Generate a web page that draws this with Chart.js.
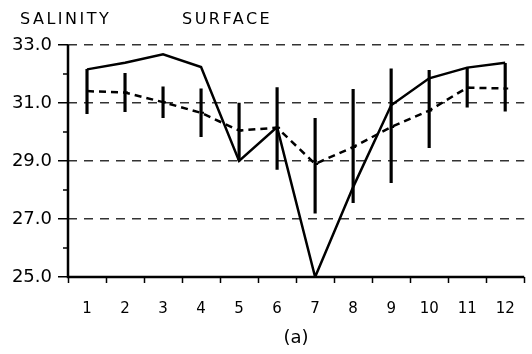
<!DOCTYPE html>
<html>
<head>
<meta charset="utf-8">
<script src="https://cdn.jsdelivr.net/npm/chart.js@4"></script>
<style>
    html, body { margin: 0; padding: 0; background: #fff; }
    #wrap { width: 532px; height: 354px; }
</style>
</head>
<body>
<div id="wrap"><canvas id="salinity-chart" width="532" height="354"></canvas></div>
<script>
// ============================================
// DATA
// ============================================

const months = ['1', '2', '3', '4', '5', '6', '7', '8', '9', '10', '11', '12'];
const surfaceValues = [32.16, 32.39, 32.68, 32.24, 29.0, 30.17, 25.0, 28.1, 30.92, 31.85, 32.22, 32.39];
const meanValues = [31.41, 31.36, 31.03, 30.66, 30.05, 30.15, 28.9, 29.48, 30.17, 30.74, 31.53, 31.5];
const rangeLow = [30.63, 30.7, 30.49, 29.84, 29.0, 28.71, 27.2, 27.56, 28.25, 29.46, 30.86, 30.72];
const rangeHigh = [32.16, 32.02, 31.56, 31.49, 31.0, 31.53, 30.47, 31.47, 32.18, 32.13, 32.22, 32.37];
const yMajorTicks = [25, 27, 29, 31, 33];
const yMinorTicks = [26, 28, 30, 32];

const FONT = '"DejaVu Sans", sans-serif';

// ============================================
// PLUGINS
// ============================================

// solid axis lines, minor y ticks and the header texts
const extrasPlugin = {
    id: 'extras',
    afterDraw(chart) {
        const ctx = chart.ctx;
        const area = chart.chartArea;
        const yScale = chart.scales.y;
        ctx.save();
        ctx.strokeStyle = '#000';
        ctx.lineWidth = 2.5;
        ctx.beginPath();
        ctx.moveTo(area.left, area.top);
        ctx.lineTo(area.left, area.bottom);
        ctx.lineTo(area.right, area.bottom);
        ctx.stroke();

        ctx.lineWidth = 1.5;
        yMinorTicks.forEach(v => {
            const py = yScale.getPixelForValue(v);
            ctx.beginPath();
            ctx.moveTo(yScale.right - 5, py);
            ctx.lineTo(yScale.right, py);
            ctx.stroke();
        });

        ctx.fillStyle = '#000';
        ctx.font = '16px ' + FONT;
        ctx.textBaseline = 'alphabetic';
        ctx.letterSpacing = '2.5px';
        ctx.fillText('SALINITY', 20, 24);
        ctx.fillText('SURFACE', 182, 24);
        ctx.restore();
    }
};

// ============================================
// CHART
// ============================================

const ctx = document.getElementById('salinity-chart');

new Chart(ctx, {
    data: {
        labels: months,
        datasets: [
            {
                type: 'line',
                label: 'surface',
                data: surfaceValues,
                borderColor: '#000',
                borderWidth: 2.5,
                pointRadius: 0,
                tension: 0,
                order: 1
            },
            {
                type: 'line',
                label: 'mean',
                data: meanValues,
                borderColor: '#000',
                borderWidth: 2.5,
                borderDash: [7, 5],
                pointStyle: 'dash',
                pointRadius: 3,
                pointBorderWidth: 2,
                pointBorderColor: '#000',
                tension: 0,
                order: 2
            },
            {
                type: 'bar',
                label: 'range',
                data: rangeLow.map((lo, i) => [lo, rangeHigh[i]]),
                backgroundColor: '#000',
                borderWidth: 0,
                barThickness: 2.5,
                grouped: false,
                order: 3
            }
        ]
    },
    options: {
        responsive: false,
        animation: false,
        layout: {
            padding: { top: 45, right: 2, bottom: 5, left: 0 }
        },
        plugins: {
            legend: { display: false },
            tooltip: { enabled: false }
        },
        scales: {
            x: {
                type: 'category',
                offset: true,
                border: { display: false },
                grid: {
                    offset: true,
                    drawOnChartArea: false,
                    tickLength: 6,
                    tickColor: '#000',
                    tickWidth: 1.5
                },
                ticks: {
                    color: '#000',
                    font: { family: FONT, size: 15 },
                    padding: 17,
                    maxRotation: 0
                },
                title: {
                    display: true,
                    text: '(a)',
                    color: '#000',
                    font: { family: FONT, size: 18 },
                    padding: { top: 0, bottom: 0 }
                },
                afterFit(scale) {
                    scale.height = 72;
                }
            },
            y: {
                min: 25,
                max: 33,
                border: { display: false, dash: [9, 7] },
                grid: {
                    color: c => c.tick && c.tick.value === 25 ? 'rgba(0,0,0,0)' : '#333',
                    lineWidth: 1.5,
                    tickLength: 10,
                    tickColor: '#000',
                    tickWidth: 1.5
                },
                afterBuildTicks(scale) {
                    scale.ticks = yMajorTicks.map(v => ({ value: v }));
                },
                ticks: {
                    color: '#000',
                    font: { family: FONT, size: 18 },
                    padding: 6,
                    callback: v => Number(v).toFixed(1)
                },
                afterFit(scale) {
                    scale.width = 68;
                }
            }
        }
    },
    plugins: [extrasPlugin]
});
</script>
</body>
</html>
